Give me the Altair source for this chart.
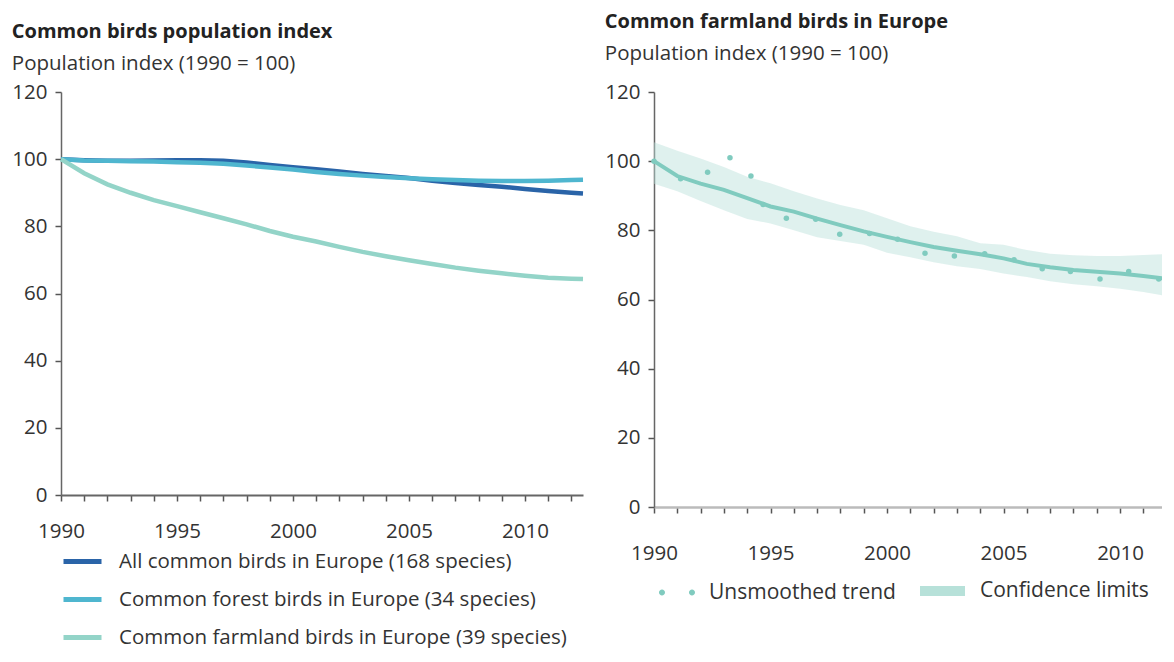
import altair as alt
import pandas as pd

# ---------------- data ----------------
years = list(range(1990, 2013)) + [2012.5]
all_common = [100, 99.7, 99.5, 99.5, 99.6, 99.7, 99.7, 99.5, 99.0, 98.3, 97.6, 97.0,
              96.3, 95.6, 95.0, 94.4, 93.6, 92.9, 92.3, 91.8, 91.1, 90.5, 90.0, 89.8]
forest = [100, 99.6, 99.5, 99.4, 99.3, 99.1, 98.9, 98.6, 98.1, 97.5, 96.9, 96.2,
          95.6, 95.1, 94.7, 94.3, 94.0, 93.8, 93.6, 93.5, 93.5, 93.6, 93.8, 93.9]
farmland = [100, 95.8, 92.5, 90.0, 87.8, 86.0, 84.2, 82.4, 80.6, 78.6, 76.9, 75.5,
            73.9, 72.4, 71.1, 69.9, 68.8, 67.7, 66.8, 66.0, 65.3, 64.7, 64.4, 64.3]
series_names = ["All common birds in Europe (168 species)",
                "Common forest birds in Europe (34 species)",
                "Common farmland birds in Europe (39 species)"]
series_colors = ["#2a64a8", "#4fb6cf", "#93d4c8"]

trend_years = list(range(1990, 2013))
smoothed = [100, 95.7, 93.5, 91.7, 89.3, 86.9, 85.4, 83.4, 81.5, 79.7, 78.1, 76.6,
            75.2, 74.1, 73.1, 71.9, 70.3, 69.3, 68.5, 68.0, 67.5, 66.8, 66.0]
upper = [105.5, 103.0, 100.8, 98.3, 95.5, 93.6, 91.3, 89.2, 87.3, 85.8, 83.5, 81.2,
         79.6, 78.3, 76.3, 75.8, 74.3, 73.2, 72.8, 72.6, 72.6, 72.9, 73.1]
lower = [93.5, 91.3, 88.5, 85.8, 83.3, 82.0, 80.0, 78.0, 76.9, 75.8, 73.5, 72.2,
         70.8, 69.6, 68.8, 67.5, 66.5, 65.3, 64.4, 63.8, 63.1, 62.2, 61.0]
dot_years = [1990.0, 1991.14, 1992.3, 1993.26, 1994.16, 1994.68, 1995.68, 1996.94,
             1997.97, 1999.25, 2000.45, 2001.63, 2002.89, 2004.19, 2005.45, 2006.66,
             2007.87, 2009.14, 2010.37, 2011.66]
dot_values = [100, 94.9, 96.8, 101.0, 95.7, 87.5, 83.5, 83.2, 78.9, 79.1, 77.4, 73.4,
              72.6, 73.2, 71.5, 68.9, 68.1, 65.9, 68.1, 65.9]
trend_color = "#80cbbf"
band_color = "#b7e1d9"

y_ticks = [0, 20, 40, 60, 80, 100, 120]
x_ticks = list(range(1990, 2013))

FONT = "Open Sans"

# ---------------- tables ----------------
left_df = pd.DataFrame({
    "year": years * 3,
    "value": all_common + forest + farmland,
    "series": [series_names[0]] * len(years) + [series_names[1]] * len(years)
              + [series_names[2]] * len(years),
})
band_df = pd.DataFrame({"year": trend_years, "smoothed": smoothed, "upper": upper,
                        "lower": lower, "label": ["Confidence limits"] * len(trend_years)})
dot_df = pd.DataFrame({"year": dot_years, "value": dot_values,
                       "label": ["Unsmoothed trend"] * len(dot_years)})


def x_axis(pad, domain_color, domain_width):
    return alt.Axis(values=x_ticks, format="d", title=None,
                    labelExpr="datum.value % 5 == 0 ? datum.label : ''",
                    labelFlush=False, labelOverlap=False, labelPadding=pad,
                    labelFontSize=20.5, labelColor="#333", labelFont=FONT,
                    tickSize=6, tickColor="#555", tickWidth=1.5,
                    domainColor=domain_color, domainWidth=domain_width, grid=False)


def y_axis():
    return alt.Axis(values=y_ticks, title=None, labelPadding=8, labelFontSize=20.5,
                    labelColor="#333", labelFont=FONT, tickSize=6, tickColor="#555",
                    tickWidth=1.5, domainColor="#666", domainWidth=1.5, grid=False)


# ---------------- left panel ----------------
left = alt.Chart(left_df).mark_line(strokeWidth=4.5).encode(
    x=alt.X("year:Q", scale=alt.Scale(domain=[1990, 2012.5], nice=False, zero=False),
            axis=x_axis(20.5, "#666", 2)),
    y=alt.Y("value:Q", scale=alt.Scale(domain=[0, 120], nice=False), axis=y_axis()),
    color=alt.Color("series:N", sort=series_names,
                    scale=alt.Scale(domain=series_names, range=series_colors),
                    legend=alt.Legend(title=None, orient="none", legendX=0, legendY=448,
                                      direction="vertical", symbolType="stroke",
                                      symbolStrokeWidth=5, symbolSize=1444,
                                      labelFontSize=20.5, labelFont=FONT, labelColor="#333",
                                      labelOffset=15, rowPadding=6, padding=0,
                                      labelLimit=700)),
).properties(
    width=522, height=403,
    title=alt.TitleParams(text="Common birds population index",
                          subtitle="Population index (1990 = 100)",
                          anchor="start", frame="bounds", fontSize=20, fontWeight="bold",
                          subtitleFontSize=20.5, subtitlePadding=12, offset=8,
                          color="#222", subtitleColor="#333", font=FONT, subtitleFont=FONT),
)

# ---------------- right panel ----------------
xR = alt.X("year:Q", scale=alt.Scale(domain=[1990, 2012.1], nice=False, zero=False),
           axis=x_axis(30, "#bbb", 2.5))
yR = alt.Y("upper:Q", scale=alt.Scale(domain=[0, 120], nice=False), axis=y_axis())

dots_path = ("M-1.2,0a0.2,0.2 0 1,0 0.4,0a0.2,0.2 0 1,0 -0.4,0"
             "M0.8,0a0.2,0.2 0 1,0 0.4,0a0.2,0.2 0 1,0 -0.4,0")
swatch_path = "M-1,-0.22H1V0.22H-1Z"

band = alt.Chart(band_df).mark_area(opacity=0.45).encode(
    x=xR, y=yR, y2="lower:Q",
    fill=alt.Fill("label:N", scale=alt.Scale(range=[band_color]),
                  legend=alt.Legend(title=None, orient="none", legendX=266, legendY=476.5,
                                    symbolType=swatch_path, symbolSize=2025,
                                    symbolOpacity=1, symbolStrokeWidth=0,
                                    labelFontSize=21, labelFont=FONT, labelColor="#333",
                                    labelOffset=15, padding=0, labelLimit=700)),
)
trend_line = alt.Chart(band_df).mark_line(color=trend_color, strokeWidth=4).encode(
    x=xR, y=alt.Y("smoothed:Q"),
)
dots = alt.Chart(dot_df).mark_circle(size=30, opacity=1).encode(
    x=xR, y=alt.Y("value:Q"),
    color=alt.Color("label:N", scale=alt.Scale(range=[trend_color]),
                    legend=alt.Legend(title=None, orient="none", legendX=8, legendY=485.5,
                                      symbolType=dots_path, symbolSize=900,
                                      symbolStrokeWidth=0,
                                      labelFontSize=21, labelFont=FONT, labelColor="#333",
                                      labelOffset=17, padding=0, labelLimit=700)),
)

right = alt.layer(band, trend_line, dots).resolve_scale(
    color="independent", fill="independent"
).properties(
    width=515, height=415,
    title=alt.TitleParams(text="Common farmland birds in Europe",
                          subtitle="Population index (1990 = 100)",
                          anchor="start", frame="bounds", fontSize=20, fontWeight="bold",
                          subtitleFontSize=20.5, subtitlePadding=12.5, offset=17.5,
                          color="#222", subtitleColor="#333", font=FONT, subtitleFont=FONT),
)

chart = alt.hconcat(left, right, spacing=71, bounds="flush").resolve_scale(
    color="independent", fill="independent", x="independent", y="independent"
).properties(
    padding={"left": 3, "top": 3, "right": -13, "bottom": 0}
).configure_view(stroke=None)

chart.save("out.html", embed_options={"renderer": "svg", "actions": False})
